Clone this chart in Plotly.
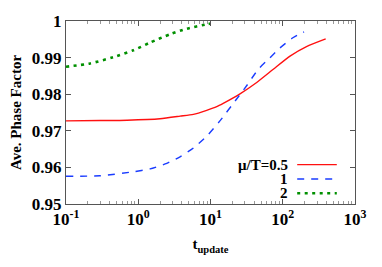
import plotly.graph_objects as go

# data
t_red = [0.1, 0.3, 0.7, 2.0, 3.79, 5.8, 8.85, 12.2, 15.0, 25.6, 43.6, 74, 126, 213, 393]
v_red = [0.9727, 0.9728, 0.9729, 0.9733, 0.9740, 0.9745, 0.9756, 0.9766, 0.9775, 0.9801, 0.9832, 0.9868, 0.9904, 0.9930, 0.9951]

t_blue = [0.1, 0.295, 0.855, 1.46, 2.48, 3.79, 5.8, 8.85, 13.5, 23.0, 31.6, 45.8, 66, 91, 140, 197]
v_blue = [0.9576, 0.9577, 0.9588, 0.9596, 0.9611, 0.9629, 0.9653, 0.9685, 0.9727, 0.9787, 0.9823, 0.9868, 0.9899, 0.9926, 0.9955, 0.9970]

t_green = [0.1, 0.215, 0.45, 0.855, 1.46, 2.76, 4.7, 8.9, 10.0]
v_green = [0.9875, 0.9884, 0.9901, 0.9920, 0.9941, 0.9964, 0.9979, 0.9991, 0.9993]

series_names = ["\u03bc/T=0.5", "1", "2"]

x_tickvals = [0.1, 1, 10, 100, 1000]
x_ticktext = ["10<sup>-1</sup>", "10<sup>0</sup>", "10<sup>1</sup>", "10<sup>2</sup>", "10<sup>3</sup>"]
y_tickvals = [0.95, 0.96, 0.97, 0.98, 0.99, 1.0]
y_ticktext = ["0.95", "0.96", "0.97", "0.98", "0.99", "1"]
x_minor = [m * d for d in [0.1, 1, 10, 100] for m in range(2, 10)]

FONT = "Liberation Serif, Times New Roman, serif"
colors = ["#ff1010", "#1a3cff", "#009000"]
dashes = ["solid", "7px,7px", "3px,4.5px"]
widths = [1.4, 1.4, 2.6]

fig = go.Figure()
for (tx, vy), c, d, w in zip([(t_red, v_red), (t_blue, v_blue), (t_green, v_green)], colors, dashes, widths):
    fig.add_trace(go.Scatter(x=tx, y=vy, mode="lines",
                             line=dict(color=c, dash=d, width=w, shape="spline", smoothing=0.6),
                             showlegend=False, hoverinfo="skip"))

# gnuplot-style legend: text at left, sample at right
for i, (name, c, d, w) in enumerate(zip(series_names, colors, dashes, widths)):
    yp = 0.215 - i * 0.078
    fig.add_annotation(xref="paper", yref="paper", x=0.77, y=yp, text="<b>%s</b>" % name,
                       showarrow=False, xanchor="right", yanchor="middle", borderpad=0,
                       font=dict(family=FONT, size=15, color="black"))
    fig.add_shape(type="line", xref="paper", yref="paper", x0=0.8, x1=0.937, y0=yp, y1=yp,
                  line=dict(color=c, dash=d, width=w))

axis_common = dict(showline=True, linecolor="#555555", linewidth=1, mirror="allticks",
                   ticks="inside", ticklen=5, tickcolor="#555555", showgrid=False, zeroline=False,
                   tickfont=dict(family=FONT, size=17, color="black"))

fig.update_xaxes(type="log", range=[-1, 3], tickvals=x_tickvals,
                 ticktext=["<b>%s</b>" % t for t in x_ticktext],
                 minor=dict(tickvals=x_minor, ticks="inside", ticklen=3, tickcolor="#999999", showgrid=False),
                 title=dict(text="<b>t<sub>update</sub></b>", font=dict(family=FONT, size=15, color="black"), standoff=10),
                 **axis_common)
fig.update_yaxes(range=[0.95, 1.0], tickvals=y_tickvals, ticktext=["<b>%s</b>" % t for t in y_ticktext],
                 title=dict(text="<b>Ave. Phase Factor</b>", font=dict(family=FONT, size=15, color="black"), standoff=6),
                 **axis_common)

fig.update_layout(width=382, height=267, margin=dict(l=66, r=27, t=17, b=63),
                  plot_bgcolor="white", paper_bgcolor="white", hovermode=False)

fig.write_html("out.html", config={"displayModeBar": False, "staticPlot": True},
               post_script="document.body.style.margin='0px';")
